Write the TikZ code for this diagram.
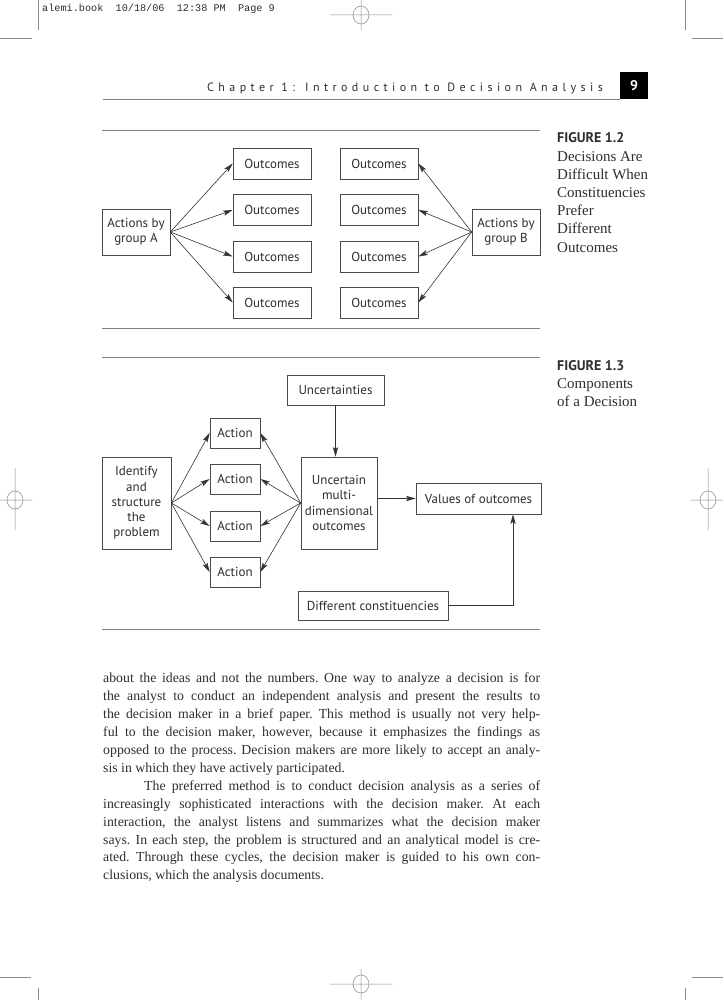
\documentclass[tikz,border=0pt]{standalone}
\usepackage{fontspec}
\setmainfont{Liberation Serif}
\newfontfamily\dsans{PT Sans}
\newfontfamily\hdrfont[LetterSpace=37]{PT Sans}
\newfontfamily\slugfont{Liberation Mono}
\usetikzlibrary{arrows.meta}
\definecolor{boxc}{HTML}{4A4A4A}
\definecolor{linec}{HTML}{333333}
\definecolor{rulec}{HTML}{808080}
\definecolor{cropc}{HTML}{8A8A8A}
\definecolor{txt}{HTML}{2E2E2E}
\begin{document}
\begin{tikzpicture}[x=1pt,y=-1pt,
  box/.style={draw=boxc, line width=0.7pt, inner sep=0pt, text=txt, align=center,
    font=\dsans\fontsize{13}{15.3}\selectfont},
  arr/.style={draw=linec, line width=0.6pt, -{Stealth[length=9.5pt,width=5.2pt,inset=2pt]}},
  rulel/.style={draw=rulec, line width=1pt},
  crop/.style={draw=cropc, line width=0.5pt},
  capt/.style={anchor=base west, inner sep=0pt, align=left, text=txt,
    font=\fontsize{15}{18.2}\selectfont}
]
\useasboundingbox (0,0) rectangle (723,1000);
\fill[white] (0,0) rectangle (723,1000);

% ---- crop and registration marks
\draw[crop] (38,0) -- (38,30) (0,38) -- (32,38);
\draw[crop] (685,0) -- (685,30) (692,38) -- (723,38);
\draw[crop] (0,977) -- (31,977) (38,988) -- (38,1000);
\draw[crop] (692,977) -- (723,977) (685,988) -- (685,1000);
\draw[crop] (361,15) circle[x radius=8, y radius=9] (330,15) -- (392,15) (361,0) -- (361,30);
\draw[crop] (15,500) circle[x radius=8, y radius=9] (0,500) -- (32,500) (15,468) -- (15,530);
\draw[crop] (708,500) circle[x radius=8, y radius=9] (691,500) -- (723,500) (708,468) -- (708,530);
\draw[crop] (361,984) circle[x radius=8, y radius=9] (330,984) -- (392,984) (361,969) -- (361,1000);

\node[anchor=base west, inner sep=0pt, text=txt, font=\slugfont\fontsize{10.2}{12}\selectfont] (slug) at (42,12)
  {alemi.book\ \ 10/18/06\ \ 12:38 PM\ \ Page 9};

% ---- running head
\node[anchor=base east, inner sep=0pt, text=txt, font=\hdrfont\fontsize{12}{14}\selectfont] (head) at (603,92)
  {Chapter 1: Introduction to Decision Analysis};
\node[fill=black, minimum width=28pt, minimum height=27pt, inner sep=0pt, text=white,
  font=\dsans\bfseries\fontsize{14}{16}\selectfont] (pnum) at (634,85.5) {9};
\draw[rulel] (103,100) -- (620,100);

% ---- Figure 1.2
\draw[rulel] (102,131) -- (540,131);
\draw[rulel] (102,328) -- (540,328);
\node[box, minimum width=68pt, minimum height=46pt] (A) at (136,232) {Actions by\\group A};
\node[box, minimum width=68pt, minimum height=46pt] (B) at (506,232) {Actions by\\group B};
\foreach \i/\y in {1/163.5, 2/210, 3/256.5, 4/302.5}{
  \node[box, minimum width=78pt, minimum height=31pt] (L\i) at (272,\y) {Outcomes};
  \node[box, minimum width=78pt, minimum height=31pt] (R\i) at (379,\y) {Outcomes};
  \draw[arr] (A.east) -- (L\i.west);
  \draw[arr] (B.west) -- (R\i.east);
}
\node[capt] (c2) at (557,252) {{\dsans\bfseries\fontsize{14}{16}\selectfont FIGURE 1.2}\\Decisions Are\\Difficult When\\Constituencies\\Prefer\\Different\\Outcomes};

% ---- Figure 1.3
\draw[rulel] (102,357) -- (540,357);
\draw[rulel] (102,629) -- (540,629);
\node[box, minimum width=97pt, minimum height=30pt] (unc) at (335.5,390) {Uncertainties};
\foreach \i/\y in {1/433, 2/479, 3/526, 4/572}{
  \node[box, minimum width=50pt, minimum height=30pt] (a\i) at (235,\y) {Action};
}
\node[box, minimum width=69pt, minimum height=92pt] (id) at (136.5,503) {Identify\\and\\structure\\the\\problem};
\node[box, minimum width=76pt, minimum height=92pt] (um) at (339,503) {Uncertain\\multi-\\dimensional\\outcomes};
\node[box, minimum width=125pt, minimum height=31pt] (val) at (478.5,498.5) {Values of outcomes};
\node[box, minimum width=150pt, minimum height=29pt] (dc) at (373,605.5) {Different constituencies};
\foreach \i in {1,2,3,4}{
  \draw[arr] (id.east) -- (a\i.west);
  \draw[arr] (um.west) -- (a\i.east);
}
\draw[arr] (unc.south) -- (unc.south |- um.north);
\draw[arr] (val.west -| um.east) -- (val.west);
\coordinate (dcv) at (513,0);
\draw[arr] (dc.east) -| (dcv |- val.south);
\node[capt] (c3) at (557,406.5) {{\dsans\bfseries\fontsize{14}{16}\selectfont FIGURE 1.3}\\Components\\of a Decision};

% ---- body text
\node[anchor=north west, inner sep=0pt, text width=437pt, align=justify, text=txt,
  font=\fontsize{13.8}{17.9}\selectfont] (body) at (103,673)
{\frenchspacing\tolerance=9999\emergencystretch=0pt\hyphenpenalty=10000
about the ideas and not the numbers. One way to analyze a decision is for\linebreak
the analyst to conduct an independent analysis and present the results to\linebreak
the decision maker in a brief paper. This method is usually not very help-\linebreak
ful to the decision maker, however, because it emphasizes the findings as\linebreak
opposed to the process. Decision makers are more likely to accept an analy-\linebreak
sis in which they have actively participated.\par
\noindent\hspace*{41pt}The preferred method is to conduct decision analysis as a series of\linebreak
increasingly sophisticated interactions with the decision maker. At each\linebreak
interaction, the analyst listens and summarizes what the decision maker\linebreak
says. In each step, the problem is structured and an analytical model is cre-\linebreak
ated. Through these cycles, the decision maker is guided to his own con-\linebreak
clusions, which the analysis documents.\par};
\end{tikzpicture}
\end{document}
